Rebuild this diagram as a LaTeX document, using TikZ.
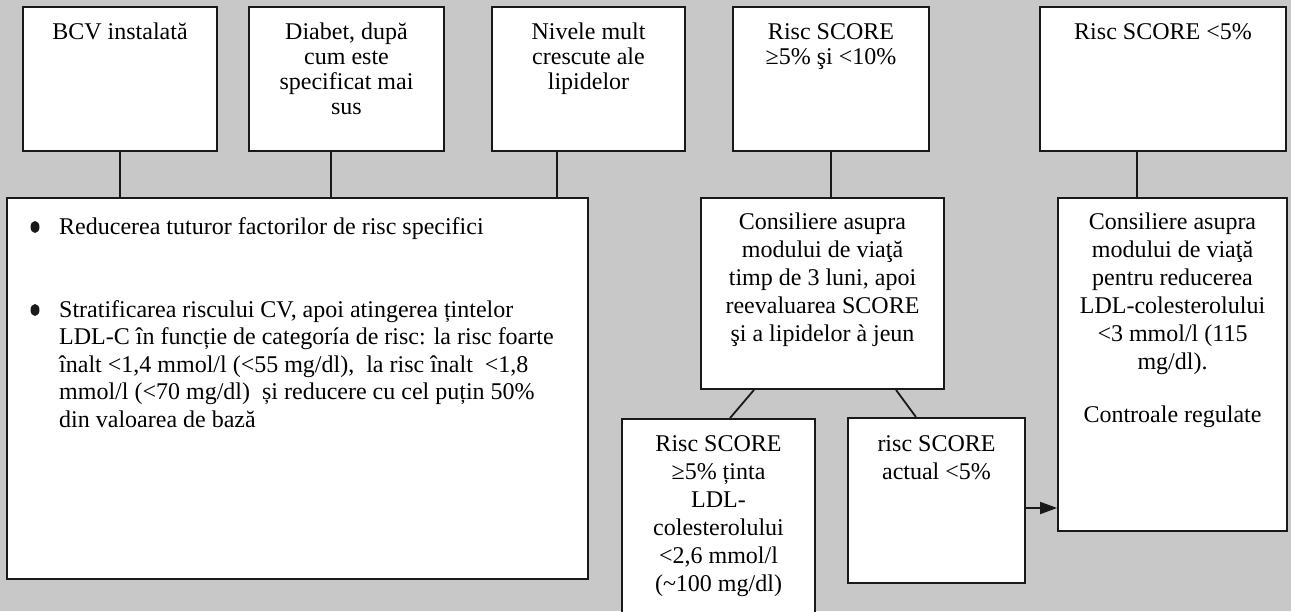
\documentclass[tikz,border=0pt]{standalone}
\usepackage{fontspec}
\setmainfont{Liberation Serif}
\usetikzlibrary{arrows.meta}
\definecolor{bg}{RGB}{200,200,200}
\definecolor{ink}{RGB}{25,25,25}
\tikzset{
  box/.style={draw=ink, fill=white, line width=1.8pt, inner sep=0pt, anchor=center},
  conn/.style={draw=ink, line width=1.8pt},
  toptext/.style={anchor=north, inner sep=0pt, align=center, font=\fontsize{24}{25}\selectfont},
  lowtext/.style={anchor=north, inner sep=0pt, align=center, font=\fontsize{24}{28}\selectfont},
  itemtext/.style={anchor=north west, inner sep=0pt, align=left, font=\fontsize{24}{27.5}\selectfont},
}
\begin{document}
\begin{tikzpicture}[x=1pt,y=-1pt]
\useasboundingbox (0,0) rectangle (1291,611);
\clip (0,0) rectangle (1291,611);
\fill[bg] (0,0) rectangle (1291,611);

% top row
\node[box, minimum width=194pt, minimum height=144pt] (b1) at (120,79) {};
\node[box, minimum width=195pt, minimum height=144pt] (b2) at (346.5,79) {};
\node[box, minimum width=193pt, minimum height=144pt] (b3) at (588.5,79) {};
\node[box, minimum width=196pt, minimum height=144pt] (b4) at (831,79) {};
\node[box, minimum width=246pt, minimum height=144pt] (b5) at (1163,79) {};

\node[toptext] (t1) at ([yshift=-15.5pt]b1.north) {\strut BCV instalată};
\node[toptext] (t2) at ([yshift=-15.5pt]b2.north) {\strut Diabet, după\\cum este\\specificat mai\\sus};
\node[toptext] (t3) at ([yshift=-15.5pt]b3.north) {\strut Nivele mult\\crescute ale\\lipidelor};
\node[toptext] (t4) at ([yshift=-15.5pt]b4.north) {\strut Risc SCORE\\≥5\% şi <10\%};
\node[toptext] (t5) at ([yshift=-15.5pt]b5.north) {\strut Risc SCORE <5\%};

% lower boxes
\node[box, minimum width=581pt, minimum height=381pt] (big) at (297.5,388.5) {};
\node[box, minimum width=243pt, minimum height=191pt] (mid) at (822.5,293.5) {};
\node[box, minimum width=193pt, minimum height=221pt] (bl) at (718.5,529.5) {};
\node[box, minimum width=177pt, minimum height=165pt] (br) at (936.5,500.5) {};
\node[box, minimum width=229pt, minimum height=333pt] (right) at (1172.5,364.5) {};

% connectors
\draw[conn] (b1.south) -- (b1.south |- big.north);
\draw[conn] ([xshift=-15.5pt]b2.south) -- ([xshift=-15.5pt]b2.south |- big.north);
\draw[conn] ([xshift=-31.5pt]b3.south) -- ([xshift=-31.5pt]b3.south |- big.north);
\draw[conn] (b4.south) -- (b4.south |- mid.north);
\draw[conn] ([xshift=-26pt]b5.south) -- ([xshift=-26pt]b5.south |- right.north);
\draw[conn] ([xshift=-68.5pt]mid.south) -- ([xshift=11.5pt]bl.north);
\draw[conn] ([xshift=73.5pt]mid.south) -- ([xshift=-20.5pt]br.north);
\draw[conn, -{Triangle[length=17pt,width=12pt]}] ([yshift=-7.5pt]br.east) -- ([yshift=-7.5pt]br.east -| right.west);

% texts of lower boxes
\fill[ink] (35,227) ellipse (4.5 and 6);
\fill[ink] (35,310) ellipse (4.5 and 6);
\node[itemtext] (i1) at (59,214.75) {\strut Reducerea tuturor factorilor de risc specifici};
\node[itemtext] (i2) at (59,297.75) {\strut Stratificarea riscului CV, apoi atingerea țintelor\\
LDL-C în funcție de categoría de risc: la risc foarte\\
înalt <1,4 mmol/l (<55 mg/dl),\ \ la risc înalt\ \ <1,8\\
mmol/l (<70 mg/dl)\ \ și reducere cu cel puțin 50\%\\
din valoarea de bază};

\node[lowtext] (tm) at ([yshift=-12.4pt]mid.north) {\strut Consiliere asupra\\modului de viaţă\\timp de 3 luni, apoi\\reevaluarea SCORE\\şi a lipidelor à jeun};
\node[lowtext] (tbl) at ([yshift=-13.4pt]bl.north) {\strut Risc SCORE\\≥5\% ținta\\LDL-\\colesterolului\\<2,6 mmol/l\\(\textasciitilde100 mg/dl)};
\node[lowtext] (tbr) at ([yshift=-14.4pt]br.north) {\strut risc SCORE\\actual <5\%};
\node[lowtext] (tr) at ([yshift=-12.4pt]right.north) {\strut Consiliere asupra\\modului de viaţă\\pentru reducerea\\LDL-colesterolului\\<3 mmol/l (115\\mg/dl).\\[25pt]Controale regulate};
\end{tikzpicture}
\end{document}
